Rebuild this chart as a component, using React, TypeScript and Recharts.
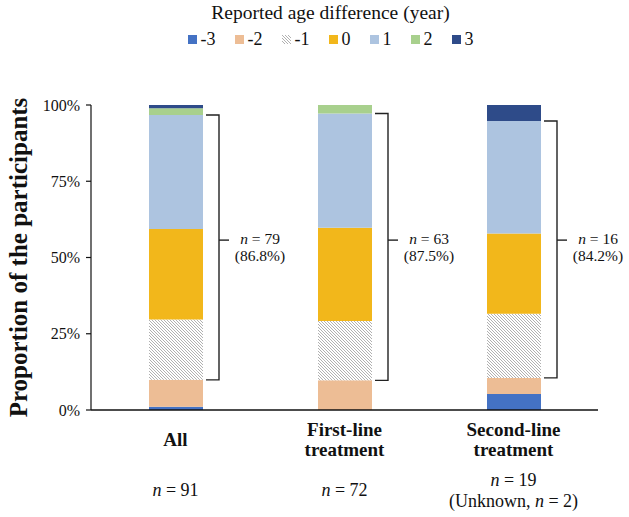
import React from "react";
import { BarChart, Bar, XAxis, YAxis, Legend, LabelList } from "recharts";

// ---- data ----
const categories = ["All", "First-line treatment", "Second-line treatment"];
const categoryLines = [["All"], ["First-line", "treatment"], ["Second-line", "treatment"]];
const levels = ["-3", "-2", "-1", "0", "1", "2", "3"];
const countMinus3 = [1, 0, 1];
const countMinus2 = [8, 7, 1];
const countMinus1 = [18, 14, 4];
const count0 = [27, 22, 5];
const count1 = [34, 27, 7];
const count2 = [2, 2, 0];
const count3 = [1, 0, 1];
const unknownCounts: (number | null)[] = [null, null, 2];
const yTicks = [0, 0.25, 0.5, 0.75, 1];
const bracketLabelValue = 0.557; // axis value where the bracket label sits

const levelCounts: Record<string, number[]> = {
  "-3": countMinus3,
  "-2": countMinus2,
  "-1": countMinus1,
  "0": count0,
  "1": count1,
  "2": count2,
  "3": count3,
};

const rows = categories.map((c, i) => {
  const r: any = { category: c };
  levels.forEach((l) => (r[l] = levelCounts[l][i]));
  return r;
});
const totals = categories.map((_, i) => levels.reduce((s, l) => s + levelCounts[l][i], 0));

// ---- style ----
const FONT = '"Liberation Serif", "Times New Roman", serif';
const colors: Record<string, string> = {
  "-3": "#4472C4",
  "-2": "#EDBD95",
  "-1": "url(#hatch)",
  "0": "#F2B71B",
  "1": "#ADC4E0",
  "2": "#A8D08D",
  "3": "#2E4B89",
};

const HatchDef = ({ id }: { id: string }) => (
  <defs>
    <pattern id={id} patternUnits="userSpaceOnUse" width={3} height={3}>
      <rect width={3} height={3} fill="#ffffff" />
      <path d="M-1,2 l2,2 M0,0 l3,3 M2,-1 l2,2" stroke="#a8a8a8" strokeWidth={0.9} />
    </pattern>
  </defs>
);

const renderLegend = () => (
  <div style={{ fontFamily: FONT, color: "#111", textAlign: "center" }}>
    <div style={{ fontSize: 19.5, lineHeight: "20px", marginTop: 3 }}>Reported age difference (year)</div>
    <div
      style={{
        display: "flex",
        justifyContent: "center",
        gap: 19,
        marginTop: 6,
        fontSize: 18,
        lineHeight: "20px",
      }}
    >
      {levels.map((l) => (
        <span key={l} style={{ display: "flex", alignItems: "center" }}>
          <svg width={9} height={9} style={{ display: "block" }}>
            <HatchDef id="hatchLegend" />
            <rect width={9} height={9} fill={l === "-1" ? "url(#hatchLegend)" : colors[l]} />
          </svg>
          <span style={{ marginLeft: 4 }}>{l}</span>
        </span>
      ))}
    </div>
  </div>
);

const XTick = (props: any) => {
  const { x, y, index } = props;
  const lines = categoryLines[index] || [];
  const labelCenter = y + 21;
  const nCenter = y + 72;
  const unk = unknownCounts[index];
  const nLines: React.ReactNode[] = [
    <>
      <tspan fontStyle="italic">n</tspan> = {totals[index]}
    </>,
  ];
  if (unk !== null && unk !== undefined) {
    nLines.push(
      <>
        (Unknown, <tspan fontStyle="italic">n</tspan> = {unk})
      </>
    );
  }
  return (
    <g fontFamily={FONT} fill="#111">
      {lines.map((ln, i) => (
        <text
          key={"l" + i}
          x={x}
          y={labelCenter + (i - (lines.length - 1) / 2) * 20}
          dy="0.35em"
          textAnchor="middle"
          fontWeight="bold"
          fontSize={19}
        >
          {ln}
        </text>
      ))}
      {nLines.map((ln, i) => (
        <text
          key={"n" + i}
          x={x}
          y={nCenter + (i - (nLines.length - 1) / 2) * 21}
          dy="0.35em"
          textAnchor="middle"
          fontSize={18}
        >
          {ln}
        </text>
      ))}
    </g>
  );
};

const BracketLabel = (props: any) => {
  const vb = props.viewBox && typeof props.viewBox.x === "number" ? props.viewBox : props;
  const { x, y, width, height } = vb;
  const index = props.index;
  if (typeof x !== "number" || index === undefined) return null;
  const c1 = count1[index];
  const unit = height / c1;
  const top = y;
  const bottom = y + height + (count0[index] + countMinus1[index]) * unit;
  const base =
    y + height + (count0[index] + countMinus1[index] + countMinus2[index] + countMinus3[index]) * unit;
  const mid = base - bracketLabelValue * totals[index] * unit;
  const right = x + width;
  const vx = right + 16;
  const n = countMinus1[index] + count0[index] + count1[index];
  const pct = ((n / totals[index]) * 100).toFixed(1);
  return (
    <g>
      <path
        d={`M${right + 3},${top} H${vx} V${bottom} H${right + 3}`}
        fill="none"
        stroke="#222"
        strokeWidth={1.4}
      />
      <line x1={vx} x2={vx + 10} y1={mid} y2={mid} stroke="#222" strokeWidth={1.4} />
      <text x={vx + 41} y={mid - 2} dy="0.35em" textAnchor="middle" fontFamily={FONT} fontSize={15.5} fill="#111">
        <tspan fontStyle="italic">n</tspan> = {n}
      </text>
      <text
        x={vx + 41}
        y={mid + 15.5}
        dy="0.35em"
        textAnchor="middle"
        fontFamily={FONT}
        fontSize={15.5}
        fill="#111"
      >
        ({pct}%)
      </text>
    </g>
  );
};

const YLabel = (props: any) => {
  const vb = props.viewBox || {};
  const cy = (vb.y ?? 105) + (vb.height ?? 305) / 2;
  const cx = 18;
  return (
    <text
      x={cx}
      y={cy}
      transform={`rotate(-90, ${cx}, ${cy})`}
      textAnchor="middle"
      dy="0.35em"
      fontFamily={FONT}
      fontWeight="bold"
      fontSize={25}
      fill="#111"
    >
      Proportion of the participants
    </text>
  );
};

export default function App() {
  return (
    <div style={{ position: "absolute", left: 0, top: 0, width: 629, height: 517, background: "#fff" }}>
      <BarChart
        width={629}
        height={517}
        data={rows}
        stackOffset="expand"
        margin={{ top: 105, right: 31, left: 0, bottom: 0 }}
        barCategoryGap={0}
      >
        <HatchDef id="hatch" />
        <Legend
          content={renderLegend}
          layout="horizontal"
          verticalAlign="middle"
          align="center"
          wrapperStyle={{ top: 0, left: 16, width: 629 }}
        />
        <XAxis
          dataKey="category"
          height={107}
          tickLine={false}
          axisLine={{ stroke: "#111", strokeWidth: 1.4 }}
          tick={<XTick />}
          interval={0}
        />
        <YAxis
          width={91}
          domain={[0, 1]}
          ticks={yTicks}
          tickFormatter={(v: number) => `${Math.round(v * 100)}%`}
          tickSize={5}
          tickMargin={6}
          axisLine={{ stroke: "#111", strokeWidth: 1.2 }}
          tickLine={{ stroke: "#111", strokeWidth: 1.2 }}
          tick={{ fontSize: 16, fill: "#111", fontFamily: FONT }}
          label={<YLabel />}
        />
        {levels.map((l) => (
          <Bar
            key={l}
            dataKey={l}
            stackId="a"
            fill={colors[l]}
            barSize={54}
            isAnimationActive={false}
          >
            {l === "1" ? <LabelList dataKey={l} content={<BracketLabel />} /> : null}
          </Bar>
        ))}
      </BarChart>
    </div>
  );
}
